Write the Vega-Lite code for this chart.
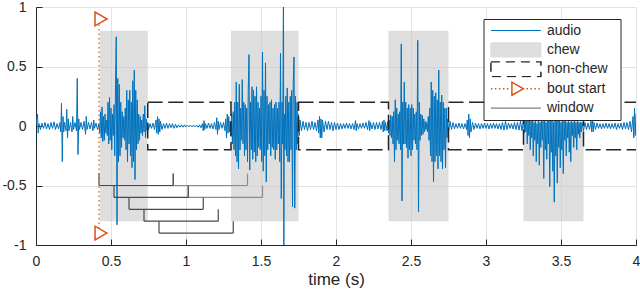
{
  "$schema": "https://vega.github.io/schema/vega-lite/v6.json",
  "width": 600,
  "height": 238,
  "autosize": {"type": "none"},
  "padding": {"left": 36, "top": 7, "right": 4, "bottom": 48},
  "config": {
    "font": "Liberation Sans",
    "view": {"stroke": null},
    "axis": {
      "domainColor": "#262626", "tickColor": "#262626", "labelColor": "#262626", "titleColor": "#262626",
      "labelFont": "Liberation Sans", "titleFont": "Liberation Sans", "labelFontSize": 14, "titleFontSize": 17,
      "titleFontWeight": "normal", "grid": true, "gridColor": "#e3e3e3", "tickSize": -6, "labelFlush": false,
      "labelExpr": "'' + datum.value"
    },
    "axisX": {"tickCount": 8, "labelPadding": 15, "titlePadding": 3},
    "axisY": {"tickCount": 4, "labelPadding": 16}
  },
  "datasets": {
    "chew": [{"a": 0.425, "b": 0.745}, {"a": 1.3, "b": 1.75}, {"a": 2.35, "b": 2.75}, {"a": 3.25, "b": 3.65}],
    "nonchew": [{"a": 0.745, "b": 1.3}, {"a": 1.75, "b": 2.35}, {"a": 2.75, "b": 3.25}, {"a": 3.65, "b": 4.3}],
    "windark": [
      {"a": 0.42, "b": 0.915, "top": -0.4, "bot": -0.5},
      {"a": 0.52, "b": 1.015, "top": -0.5, "bot": -0.6},
      {"a": 0.62, "b": 1.115, "top": -0.6, "bot": -0.7},
      {"a": 0.72, "b": 1.215, "top": -0.7, "bot": -0.8},
      {"a": 0.82, "b": 1.315, "top": -0.8, "bot": -0.9}
    ],
    "winlight": [
      {"a": 0.915, "b": 1.41, "top": -0.4, "bot": -0.5},
      {"a": 1.015, "b": 1.51, "top": -0.5, "bot": -0.6}
    ],
    "bout": [{"t": 0.42, "lo": -0.9, "hi": 0.9}],
    "audio": [
      {"t":0.00,"a":0.01},{"t":0.01,"a":0.1},{"t":0.015,"a":-0.06},{"t":0.02,"a":0.02},{"t":0.03,"a":-0.03},{"t":0.04,"a":0.025},{"t":0.05,"a":-0.02},{"t":0.06,"a":0.03},{"t":0.07,"a":-0.025},{"t":0.08,"a":0.02},{"t":0.09,"a":-0.03},{"t":0.10,"a":0.03},{"t":0.11,"a":-0.02},{"t":0.12,"a":0.035},{"t":0.13,"a":-0.03},{"t":0.14,"a":0.02},{"t":0.15,"a":-0.025},{"t":0.16,"a":0.03},{"t":0.165,"a":-0.05},{"t":0.17,"a":0.19},{"t":0.175,"a":-0.3},{"t":0.18,"a":0.08},{"t":0.185,"a":-0.05},{"t":0.19,"a":0.03},{"t":0.20,"a":-0.04},{"t":0.205,"a":0.14},{"t":0.21,"a":-0.1},{"t":0.215,"a":0.06},{"t":0.22,"a":-0.04},{"t":0.23,"a":0.03},{"t":0.24,"a":-0.05},{"t":0.245,"a":0.08},{"t":0.25,"a":-0.03},{"t":0.26,"a":0.03},{"t":0.27,"a":-0.04},{"t":0.275,"a":0.4},{"t":0.28,"a":-0.24},{"t":0.285,"a":0.06},{"t":0.29,"a":-0.03},{"t":0.30,"a":0.03},{"t":0.31,"a":-0.03},{"t":0.32,"a":0.04},{"t":0.33,"a":-0.07},{"t":0.335,"a":0.08},{"t":0.34,"a":-0.03},{"t":0.35,"a":0.03},{"t":0.36,"a":-0.025},{"t":0.37,"a":0.03},{"t":0.38,"a":-0.04},{"t":0.385,"a":0.05},{"t":0.39,"a":-0.02},{"t":0.40,"a":0.025},{"t":0.41,"a":-0.03},{"t":0.42,"a":0.02},
      {"t":0.425,"a":-0.06},{"t":0.43,"a":0.12},{"t":0.435,"a":-0.1},{"t":0.44,"a":0.16},{"t":0.445,"a":-0.13},{"t":0.45,"a":0.08},{"t":0.455,"a":-0.12},{"t":0.46,"a":0.1},{"t":0.465,"a":-0.06},{"t":0.47,"a":0.05},{"t":0.475,"a":-0.08},{"t":0.48,"a":0.2},{"t":0.485,"a":-0.15},{"t":0.49,"a":0.24},{"t":0.495,"a":-0.12},{"t":0.50,"a":0.15},{"t":0.505,"a":-0.2},{"t":0.51,"a":0.1},{"t":0.515,"a":-0.08},{"t":0.52,"a":0.18},{"t":0.525,"a":-0.25},{"t":0.53,"a":0.35},{"t":0.535,"a":0.75},{"t":0.54,"a":-0.83},{"t":0.545,"a":0.4},{"t":0.55,"a":-0.3},{"t":0.555,"a":0.35},{"t":0.56,"a":-0.25},{"t":0.565,"a":0.2},{"t":0.57,"a":-0.18},{"t":0.575,"a":0.12},{"t":0.58,"a":-0.1},{"t":0.585,"a":0.08},{"t":0.59,"a":-0.12},{"t":0.595,"a":0.15},{"t":0.60,"a":-0.2},{"t":0.605,"a":0.3},{"t":0.61,"a":-0.3},{"t":0.615,"a":0.22},{"t":0.62,"a":-0.15},{"t":0.625,"a":0.3},{"t":0.63,"a":-0.25},{"t":0.635,"a":0.2},{"t":0.64,"a":-0.35},{"t":0.645,"a":0.38},{"t":0.65,"a":-0.3},{"t":0.655,"a":0.47},{"t":0.66,"a":-0.45},{"t":0.665,"a":0.3},{"t":0.67,"a":-0.2},{"t":0.675,"a":0.22},{"t":0.68,"a":-0.15},{"t":0.685,"a":0.1},{"t":0.69,"a":-0.12},{"t":0.695,"a":0.08},{"t":0.70,"a":-0.06},{"t":0.705,"a":0.05},{"t":0.71,"a":-0.08},{"t":0.715,"a":0.1},{"t":0.72,"a":-0.05},{"t":0.725,"a":0.17},{"t":0.73,"a":-0.1},{"t":0.735,"a":0.06},{"t":0.74,"a":-0.04},{"t":0.745,"a":0.03},{"t":0.75,"a":-0.03},
      {"t":0.76,"a":0.02},{"t":0.77,"a":-0.02},{"t":0.78,"a":0.025},{"t":0.79,"a":-0.03},{"t":0.80,"a":0.05},{"t":0.805,"a":-0.06},{"t":0.81,"a":0.08},{"t":0.815,"a":-0.07},{"t":0.82,"a":0.06},{"t":0.825,"a":-0.05},{"t":0.83,"a":0.04},{"t":0.84,"a":-0.03},{"t":0.85,"a":0.02},{"t":0.86,"a":-0.02},{"t":0.87,"a":0.025},{"t":0.88,"a":-0.02},{"t":0.89,"a":0.02},{"t":0.90,"a":-0.015},{"t":0.91,"a":0.02},{"t":0.92,"a":-0.02},{"t":0.93,"a":0.015},{"t":0.94,"a":-0.015},{"t":0.95,"a":0.01},{"t":0.96,"a":-0.01},{"t":0.97,"a":0.01},{"t":0.98,"a":-0.01},{"t":0.99,"a":0.01},{"t":1.00,"a":-0.008},{"t":1.01,"a":0.008},{"t":1.02,"a":-0.006},{"t":1.03,"a":0.006},{"t":1.04,"a":-0.006},{"t":1.05,"a":0.006},{"t":1.06,"a":-0.006},{"t":1.07,"a":0.008},{"t":1.08,"a":-0.01},{"t":1.09,"a":0.01},{"t":1.10,"a":-0.015},{"t":1.11,"a":0.02},{"t":1.115,"a":-0.04},{"t":1.12,"a":0.045},{"t":1.125,"a":-0.03},{"t":1.13,"a":0.02},{"t":1.14,"a":-0.02},{"t":1.15,"a":0.025},{"t":1.16,"a":-0.02},{"t":1.17,"a":0.02},{"t":1.18,"a":-0.025},{"t":1.19,"a":0.03},{"t":1.20,"a":-0.03},{"t":1.205,"a":0.07},{"t":1.21,"a":-0.07},{"t":1.215,"a":0.04},{"t":1.22,"a":-0.03},{"t":1.23,"a":0.03},{"t":1.24,"a":-0.02},{"t":1.25,"a":0.03},{"t":1.26,"a":-0.04},{"t":1.265,"a":0.06},{"t":1.27,"a":-0.1},{"t":1.275,"a":0.1},{"t":1.28,"a":-0.06},{"t":1.285,"a":0.08},{"t":1.29,"a":-0.05},{"t":1.295,"a":0.04},{"t":1.30,"a":-0.08},
      {"t":1.305,"a":0.1},{"t":1.31,"a":-0.15},{"t":1.315,"a":0.12},{"t":1.32,"a":-0.2},{"t":1.325,"a":0.2},{"t":1.33,"a":-0.25},{"t":1.335,"a":0.37},{"t":1.34,"a":-0.3},{"t":1.345,"a":0.2},{"t":1.35,"a":-0.36},{"t":1.355,"a":0.35},{"t":1.36,"a":-0.2},{"t":1.365,"a":0.15},{"t":1.37,"a":-0.12},{"t":1.375,"a":0.39},{"t":1.38,"a":-0.15},{"t":1.385,"a":0.2},{"t":1.39,"a":-0.25},{"t":1.395,"a":0.18},{"t":1.40,"a":-0.2},{"t":1.405,"a":0.15},{"t":1.41,"a":-0.3},{"t":1.415,"a":0.3},{"t":1.42,"a":0.6},{"t":1.425,"a":-0.37},{"t":1.43,"a":0.2},{"t":1.435,"a":-0.2},{"t":1.44,"a":0.33},{"t":1.445,"a":-0.28},{"t":1.45,"a":0.3},{"t":1.455,"a":-0.22},{"t":1.46,"a":0.25},{"t":1.465,"a":-0.3},{"t":1.47,"a":0.33},{"t":1.475,"a":-0.25},{"t":1.48,"a":0.2},{"t":1.485,"a":-0.18},{"t":1.49,"a":0.15},{"t":1.495,"a":-0.2},{"t":1.50,"a":0.25},{"t":1.505,"a":-0.3},{"t":1.51,"a":0.62},{"t":1.515,"a":-0.38},{"t":1.52,"a":0.3},{"t":1.525,"a":-0.25},{"t":1.53,"a":0.53},{"t":1.535,"a":-0.47},{"t":1.54,"a":0.25},{"t":1.545,"a":-0.2},{"t":1.55,"a":0.18},{"t":1.555,"a":-0.15},{"t":1.56,"a":0.2},{"t":1.565,"a":-0.25},{"t":1.57,"a":0.22},{"t":1.575,"a":-0.18},{"t":1.58,"a":0.15},{"t":1.585,"a":-0.2},{"t":1.59,"a":0.18},{"t":1.595,"a":-0.28},{"t":1.60,"a":0.2},{"t":1.605,"a":-0.2},{"t":1.61,"a":0.15},{"t":1.615,"a":-0.15},{"t":1.62,"a":0.2},{"t":1.625,"a":-0.3},{"t":1.63,"a":0.61},{"t":1.635,"a":-0.61},{"t":1.64,"a":0.2},{"t":1.645,"a":-0.15},{"t":1.65,"a":1.3},{"t":1.652,"a":-1.3},{"t":1.655,"a":0.1},{"t":1.66,"a":-0.2},{"t":1.665,"a":0.25},{"t":1.67,"a":-0.25},{"t":1.675,"a":0.32},{"t":1.68,"a":-0.3},{"t":1.685,"a":0.2},{"t":1.69,"a":-0.3},{"t":1.695,"a":0.25},{"t":1.70,"a":-0.2},{"t":1.705,"a":0.3},{"t":1.71,"a":-0.68},{"t":1.715,"a":0.36},{"t":1.72,"a":0.58},{"t":1.725,"a":-0.69},{"t":1.73,"a":0.25},{"t":1.735,"a":-0.2},{"t":1.74,"a":0.2},{"t":1.745,"a":-0.15},{"t":1.75,"a":0.1},{"t":1.755,"a":-0.08},{"t":1.76,"a":0.05},
      {"t":1.77,"a":-0.04},{"t":1.78,"a":0.04},{"t":1.79,"a":-0.03},{"t":1.80,"a":0.03},{"t":1.81,"a":-0.04},{"t":1.82,"a":0.03},{"t":1.83,"a":-0.03},{"t":1.84,"a":0.04},{"t":1.85,"a":-0.03},{"t":1.86,"a":0.03},{"t":1.87,"a":-0.04},{"t":1.88,"a":0.05},{"t":1.885,"a":-0.06},{"t":1.89,"a":0.08},{"t":1.895,"a":-0.1},{"t":1.90,"a":0.06},{"t":1.905,"a":-0.1},{"t":1.91,"a":0.05},{"t":1.92,"a":-0.05},{"t":1.93,"a":0.04},{"t":1.94,"a":-0.03},{"t":1.95,"a":0.04},{"t":1.96,"a":-0.03},{"t":1.97,"a":0.03},{"t":1.98,"a":-0.04},{"t":1.99,"a":0.03},{"t":2.00,"a":-0.03},{"t":2.01,"a":0.025},{"t":2.02,"a":-0.03},{"t":2.03,"a":0.02},{"t":2.04,"a":-0.025},{"t":2.05,"a":0.02},{"t":2.06,"a":-0.02},{"t":2.07,"a":0.025},{"t":2.08,"a":-0.02},{"t":2.09,"a":0.02},{"t":2.10,"a":-0.025},{"t":2.11,"a":0.02},{"t":2.12,"a":-0.03},{"t":2.13,"a":0.045},{"t":2.135,"a":-0.04},{"t":2.14,"a":0.02},{"t":2.15,"a":-0.025},{"t":2.16,"a":0.02},{"t":2.17,"a":-0.02},{"t":2.18,"a":0.025},{"t":2.19,"a":-0.02},{"t":2.20,"a":0.03},{"t":2.21,"a":-0.03},{"t":2.22,"a":0.045},{"t":2.225,"a":-0.04},{"t":2.23,"a":0.03},{"t":2.24,"a":-0.025},{"t":2.25,"a":0.03},{"t":2.26,"a":-0.03},{"t":2.27,"a":0.03},{"t":2.28,"a":-0.025},{"t":2.29,"a":0.03},{"t":2.30,"a":-0.03},{"t":2.31,"a":0.04},{"t":2.315,"a":-0.05},{"t":2.32,"a":0.05},{"t":2.325,"a":-0.04},{"t":2.33,"a":0.03},{"t":2.34,"a":-0.04},{"t":2.345,"a":0.04},
      {"t":2.35,"a":-0.06},{"t":2.355,"a":0.05},{"t":2.36,"a":-0.08},{"t":2.365,"a":0.09},{"t":2.37,"a":-0.1},{"t":2.375,"a":0.08},{"t":2.38,"a":-0.15},{"t":2.385,"a":0.12},{"t":2.39,"a":-0.3},{"t":2.395,"a":0.22},{"t":2.40,"a":-0.2},{"t":2.405,"a":0.15},{"t":2.41,"a":-0.12},{"t":2.415,"a":0.1},{"t":2.42,"a":-0.15},{"t":2.425,"a":0.12},{"t":2.43,"a":-0.2},{"t":2.435,"a":0.69},{"t":2.44,"a":-0.63},{"t":2.445,"a":0.2},{"t":2.45,"a":-0.15},{"t":2.455,"a":0.37},{"t":2.46,"a":-0.15},{"t":2.465,"a":0.2},{"t":2.47,"a":-0.18},{"t":2.475,"a":0.15},{"t":2.48,"a":-0.27},{"t":2.485,"a":0.18},{"t":2.49,"a":-0.2},{"t":2.495,"a":0.15},{"t":2.50,"a":-0.25},{"t":2.505,"a":0.18},{"t":2.51,"a":-0.2},{"t":2.515,"a":0.15},{"t":2.52,"a":-0.12},{"t":2.525,"a":0.1},{"t":2.53,"a":-0.15},{"t":2.535,"a":0.12},{"t":2.54,"a":-0.2},{"t":2.545,"a":0.72},{"t":2.55,"a":-0.72},{"t":2.555,"a":0.2},{"t":2.56,"a":-0.12},{"t":2.565,"a":0.1},{"t":2.57,"a":-0.08},{"t":2.575,"a":0.09},{"t":2.58,"a":-0.07},{"t":2.585,"a":0.06},{"t":2.59,"a":-0.05},{"t":2.595,"a":0.04},{"t":2.60,"a":-0.03},{"t":2.605,"a":0.03},{"t":2.61,"a":-0.05},{"t":2.615,"a":0.08},{"t":2.62,"a":-0.12},{"t":2.625,"a":0.15},{"t":2.63,"a":-0.25},{"t":2.635,"a":0.37},{"t":2.64,"a":-0.3},{"t":2.645,"a":0.3},{"t":2.65,"a":-0.47},{"t":2.655,"a":0.25},{"t":2.66,"a":-0.3},{"t":2.665,"a":0.28},{"t":2.67,"a":-0.25},{"t":2.675,"a":0.22},{"t":2.68,"a":-0.36},{"t":2.685,"a":0.47},{"t":2.69,"a":-0.25},{"t":2.695,"a":0.2},{"t":2.70,"a":-0.3},{"t":2.705,"a":0.26},{"t":2.71,"a":-0.36},{"t":2.715,"a":0.2},{"t":2.72,"a":-0.2},{"t":2.725,"a":0.15},{"t":2.73,"a":-0.35},{"t":2.735,"a":0.15},{"t":2.74,"a":-0.1},{"t":2.745,"a":0.06},{"t":2.75,"a":-0.05},
      {"t":2.76,"a":0.04},{"t":2.77,"a":-0.03},{"t":2.78,"a":0.03},{"t":2.79,"a":-0.025},{"t":2.80,"a":0.02},{"t":2.81,"a":-0.02},{"t":2.82,"a":0.025},{"t":2.83,"a":-0.02},{"t":2.84,"a":0.02},{"t":2.85,"a":-0.025},{"t":2.86,"a":0.02},{"t":2.87,"a":-0.03},{"t":2.875,"a":0.05},{"t":2.88,"a":-0.08},{"t":2.885,"a":0.1},{"t":2.89,"a":-0.1},{"t":2.895,"a":0.06},{"t":2.90,"a":-0.05},{"t":2.91,"a":0.03},{"t":2.92,"a":-0.03},{"t":2.93,"a":0.025},{"t":2.94,"a":-0.02},{"t":2.95,"a":0.02},{"t":2.96,"a":-0.025},{"t":2.97,"a":0.02},{"t":2.98,"a":-0.02},{"t":2.99,"a":0.025},{"t":3.00,"a":-0.02},{"t":3.01,"a":0.02},{"t":3.02,"a":-0.025},{"t":3.03,"a":0.02},{"t":3.04,"a":-0.02},{"t":3.05,"a":0.025},{"t":3.06,"a":-0.02},{"t":3.07,"a":0.02},{"t":3.08,"a":-0.025},{"t":3.09,"a":0.02},{"t":3.10,"a":-0.03},{"t":3.11,"a":0.03},{"t":3.12,"a":-0.035},{"t":3.13,"a":0.04},{"t":3.14,"a":-0.03},{"t":3.15,"a":0.025},{"t":3.16,"a":-0.02},{"t":3.17,"a":0.02},{"t":3.18,"a":-0.025},{"t":3.19,"a":0.03},{"t":3.20,"a":-0.03},{"t":3.21,"a":0.03},{"t":3.22,"a":-0.035},{"t":3.23,"a":0.04},{"t":3.24,"a":-0.04},{"t":3.25,"a":0.05},
      {"t":3.255,"a":-0.06},{"t":3.26,"a":0.1},{"t":3.265,"a":-0.05},{"t":3.27,"a":0.12},{"t":3.275,"a":-0.15},{"t":3.28,"a":0.05},{"t":3.285,"a":-0.08},{"t":3.29,"a":0.1},{"t":3.295,"a":-0.2},{"t":3.30,"a":0.04},{"t":3.305,"a":-0.1},{"t":3.31,"a":0.08},{"t":3.315,"a":-0.25},{"t":3.32,"a":0.03},{"t":3.325,"a":-0.12},{"t":3.33,"a":0.07},{"t":3.335,"a":-0.3},{"t":3.34,"a":0.02},{"t":3.345,"a":-0.15},{"t":3.35,"a":0.08},{"t":3.355,"a":-0.33},{"t":3.36,"a":0.03},{"t":3.365,"a":-0.18},{"t":3.37,"a":0.06},{"t":3.375,"a":-0.12},{"t":3.38,"a":0.04},{"t":3.385,"a":-0.44},{"t":3.39,"a":0.08},{"t":3.395,"a":-0.2},{"t":3.40,"a":0.03},{"t":3.405,"a":-0.28},{"t":3.41,"a":0.07},{"t":3.415,"a":-0.15},{"t":3.42,"a":0.05},{"t":3.425,"a":-0.51},{"t":3.43,"a":0.04},{"t":3.435,"a":-0.22},{"t":3.44,"a":0.06},{"t":3.445,"a":-0.38},{"t":3.45,"a":0.03},{"t":3.455,"a":-0.64},{"t":3.46,"a":0.07},{"t":3.465,"a":-0.25},{"t":3.47,"a":0.04},{"t":3.475,"a":-0.48},{"t":3.48,"a":0.05},{"t":3.485,"a":-0.18},{"t":3.49,"a":0.06},{"t":3.495,"a":-0.35},{"t":3.50,"a":0.03},{"t":3.505,"a":-0.2},{"t":3.51,"a":0.05},{"t":3.515,"a":-0.4},{"t":3.52,"a":0.04},{"t":3.525,"a":-0.12},{"t":3.53,"a":0.05},{"t":3.535,"a":-0.25},{"t":3.54,"a":0.03},{"t":3.545,"a":-0.1},{"t":3.55,"a":0.05},{"t":3.555,"a":-0.22},{"t":3.56,"a":0.03},{"t":3.565,"a":-0.3},{"t":3.57,"a":0.04},{"t":3.575,"a":-0.08},{"t":3.58,"a":0.03},{"t":3.585,"a":-0.18},{"t":3.59,"a":0.05},{"t":3.595,"a":-0.1},{"t":3.60,"a":0.03},{"t":3.605,"a":-0.2},{"t":3.61,"a":0.04},{"t":3.615,"a":-0.07},{"t":3.62,"a":0.03},{"t":3.625,"a":-0.1},{"t":3.63,"a":0.03},{"t":3.635,"a":-0.05},{"t":3.64,"a":0.03},{"t":3.65,"a":-0.04},
      {"t":3.66,"a":0.03},{"t":3.67,"a":-0.03},{"t":3.68,"a":0.025},{"t":3.69,"a":-0.03},{"t":3.70,"a":0.04},{"t":3.705,"a":-0.05},{"t":3.71,"a":0.06},{"t":3.715,"a":-0.05},{"t":3.72,"a":0.03},{"t":3.73,"a":-0.03},{"t":3.74,"a":0.025},{"t":3.75,"a":-0.02},{"t":3.76,"a":0.02},{"t":3.77,"a":-0.025},{"t":3.78,"a":0.02},{"t":3.79,"a":-0.02},{"t":3.80,"a":0.025},{"t":3.81,"a":-0.02},{"t":3.82,"a":0.02},{"t":3.83,"a":-0.025},{"t":3.84,"a":0.02},{"t":3.85,"a":-0.02},{"t":3.86,"a":0.025},{"t":3.87,"a":-0.03},{"t":3.88,"a":0.02},{"t":3.89,"a":-0.02},{"t":3.90,"a":0.025},{"t":3.91,"a":-0.03},{"t":3.92,"a":0.03},{"t":3.93,"a":-0.025},{"t":3.94,"a":0.03},{"t":3.95,"a":-0.03},{"t":3.96,"a":0.04},{"t":3.97,"a":-0.05},{"t":3.98,"a":0.08},{"t":3.985,"a":-0.1},{"t":3.99,"a":0.15},{"t":3.995,"a":-0.08},{"t":4.00,"a":0.1}
    ]
  },
  "layer": [
    {
      "data": {"name": "chew"},
      "mark": {"type": "rect", "fill": "#c8c8c8", "opacity": 0.6},
      "encoding": {
        "x": {"field": "a", "type": "quantitative", "scale": {"domain": [0, 4], "nice": false}, "title": "time (s)"},
        "x2": {"field": "b"},
        "y": {"datum": -0.8, "type": "quantitative", "scale": {"domain": [-1, 1], "nice": false}, "title": null},
        "y2": {"datum": 0.8}
      }
    },
    {
      "data": {"name": "audio"},
      "mark": {"type": "line", "strokeWidth": 1, "clip": true},
      "encoding": {
        "x": {"field": "t", "type": "quantitative", "scale": {"domain": [0, 4], "nice": false}, "title": "time (s)"},
        "y": {"field": "a", "type": "quantitative", "scale": {"domain": [-1, 1], "nice": false}, "title": null},
        "color": {
          "datum": "audio", "type": "nominal",
          "scale": {"domain": ["audio", "chew", "non-chew", "bout start", "window"], "range": ["#0072BD", "#dedede", "#262626", "#D95319", "#808080"]},
          "legend": {
            "title": "\u00a0", "titleOrient": "right", "titlePadding": 9, "titleFontSize": 14,
            "orient": "none", "legendX": 447.5, "legendY": 12, "padding": 3.5, "clipHeight": 16,
            "symbolOffset": 21.9, "labelOffset": 24,
            "labelFontSize": 14, "labelColor": "#262626", "labelFont": "Liberation Sans",
            "strokeColor": "#262626", "fillColor": "white", "cornerRadius": 0, "rowPadding": 3.4,
            "encode": {
              "symbols": {
                "update": {
                  "shape": {"signal": "datum.value === 'chew' ? 'M-1,-0.28H1V0.28H-1Z' : datum.value === 'non-chew' ? 'M-1,-0.3H1V0.3H-1Z' : datum.value === 'bout start' ? 'M-1,0h0.06M-0.84,0h0.06M-0.68,0h0.06M-0.52,0h0.06M-0.36,0h0.06M-0.16,-0.26L0.3,0L-0.16,0.26ZM0.42,0h0.06M0.58,0h0.06M0.74,0h0.06M0.9,0h0.06' : 'M-1,0H1'"},
                  "fill": {"signal": "datum.value === 'chew' ? '#dedede' : 'transparent'"},
                  "stroke": {"signal": "datum.value === 'audio' ? '#0072BD' : datum.value === 'chew' ? 'transparent' : datum.value === 'non-chew' ? '#262626' : datum.value === 'bout start' ? '#D95319' : '#808080'"},
                  "strokeWidth": {"signal": "datum.value === 'non-chew' || datum.value === 'bout start' ? 1.5 : 1.2"},
                  "strokeDash": {"signal": "datum.value === 'non-chew' ? [9, 6] : [1, 0]"},
                  "size": {"value": 2500},
                  "opacity": {"value": 1}
                }
              }
            }
          }
        }
      }
    },
    {
      "data": {"name": "nonchew"},
      "mark": {"type": "rect", "filled": false, "stroke": "#262626", "strokeWidth": 1.5, "strokeDash": [15, 5.5], "clip": true},
      "encoding": {
        "x": {"field": "a", "type": "quantitative", "scale": {"domain": [0, 4], "nice": false}, "title": "time (s)"},
        "x2": {"field": "b"},
        "y": {"datum": -0.2, "type": "quantitative", "scale": {"domain": [-1, 1], "nice": false}, "title": null},
        "y2": {"datum": 0.2}
      }
    },
    {
      "data": {"name": "winlight"},
      "mark": {"type": "rule", "color": "#8c8c8c", "strokeWidth": 1.2},
      "encoding": {
        "x": {"field": "a", "type": "quantitative", "scale": {"domain": [0, 4], "nice": false}, "title": "time (s)"},
        "x2": {"field": "b"},
        "y": {"field": "bot", "type": "quantitative", "scale": {"domain": [-1, 1], "nice": false}, "title": null}
      }
    },
    {
      "data": {"name": "winlight"},
      "transform": [{"fold": ["a", "b"], "as": ["k", "xv"]}],
      "mark": {"type": "rule", "color": "#8c8c8c", "strokeWidth": 1.2},
      "encoding": {
        "x": {"field": "xv", "type": "quantitative", "scale": {"domain": [0, 4], "nice": false}, "title": "time (s)"},
        "y": {"field": "top", "type": "quantitative", "scale": {"domain": [-1, 1], "nice": false}, "title": null},
        "y2": {"field": "bot"}
      }
    },
    {
      "data": {"name": "windark"},
      "mark": {"type": "rule", "color": "#4a4a4a", "strokeWidth": 1.2},
      "encoding": {
        "x": {"field": "a", "type": "quantitative", "scale": {"domain": [0, 4], "nice": false}, "title": "time (s)"},
        "x2": {"field": "b"},
        "y": {"field": "bot", "type": "quantitative", "scale": {"domain": [-1, 1], "nice": false}, "title": null}
      }
    },
    {
      "data": {"name": "windark"},
      "transform": [{"fold": ["a", "b"], "as": ["k", "xv"]}],
      "mark": {"type": "rule", "color": "#4a4a4a", "strokeWidth": 1.2},
      "encoding": {
        "x": {"field": "xv", "type": "quantitative", "scale": {"domain": [0, 4], "nice": false}, "title": "time (s)"},
        "y": {"field": "top", "type": "quantitative", "scale": {"domain": [-1, 1], "nice": false}, "title": null},
        "y2": {"field": "bot"}
      }
    },
    {
      "data": {"name": "bout"},
      "mark": {"type": "rule", "color": "#D95319", "strokeWidth": 1.2, "strokeDash": [1.5, 3]},
      "encoding": {
        "x": {"field": "t", "type": "quantitative", "scale": {"domain": [0, 4], "nice": false}, "title": "time (s)"},
        "y": {"field": "lo", "type": "quantitative", "scale": {"domain": [-1, 1], "nice": false}, "title": null},
        "y2": {"field": "hi"}
      }
    },
    {
      "data": {"name": "bout"},
      "transform": [{"fold": ["lo", "hi"], "as": ["k", "yv"]}],
      "mark": {"type": "point", "shape": "triangle-right", "size": 190, "filled": true, "fill": "white", "stroke": "#D95319", "strokeWidth": 1.5, "opacity": 1, "xOffset": 2},
      "encoding": {
        "x": {"field": "t", "type": "quantitative", "scale": {"domain": [0, 4], "nice": false}, "title": "time (s)"},
        "y": {"field": "yv", "type": "quantitative", "scale": {"domain": [-1, 1], "nice": false}, "title": null}
      }
    }
  ]
}
